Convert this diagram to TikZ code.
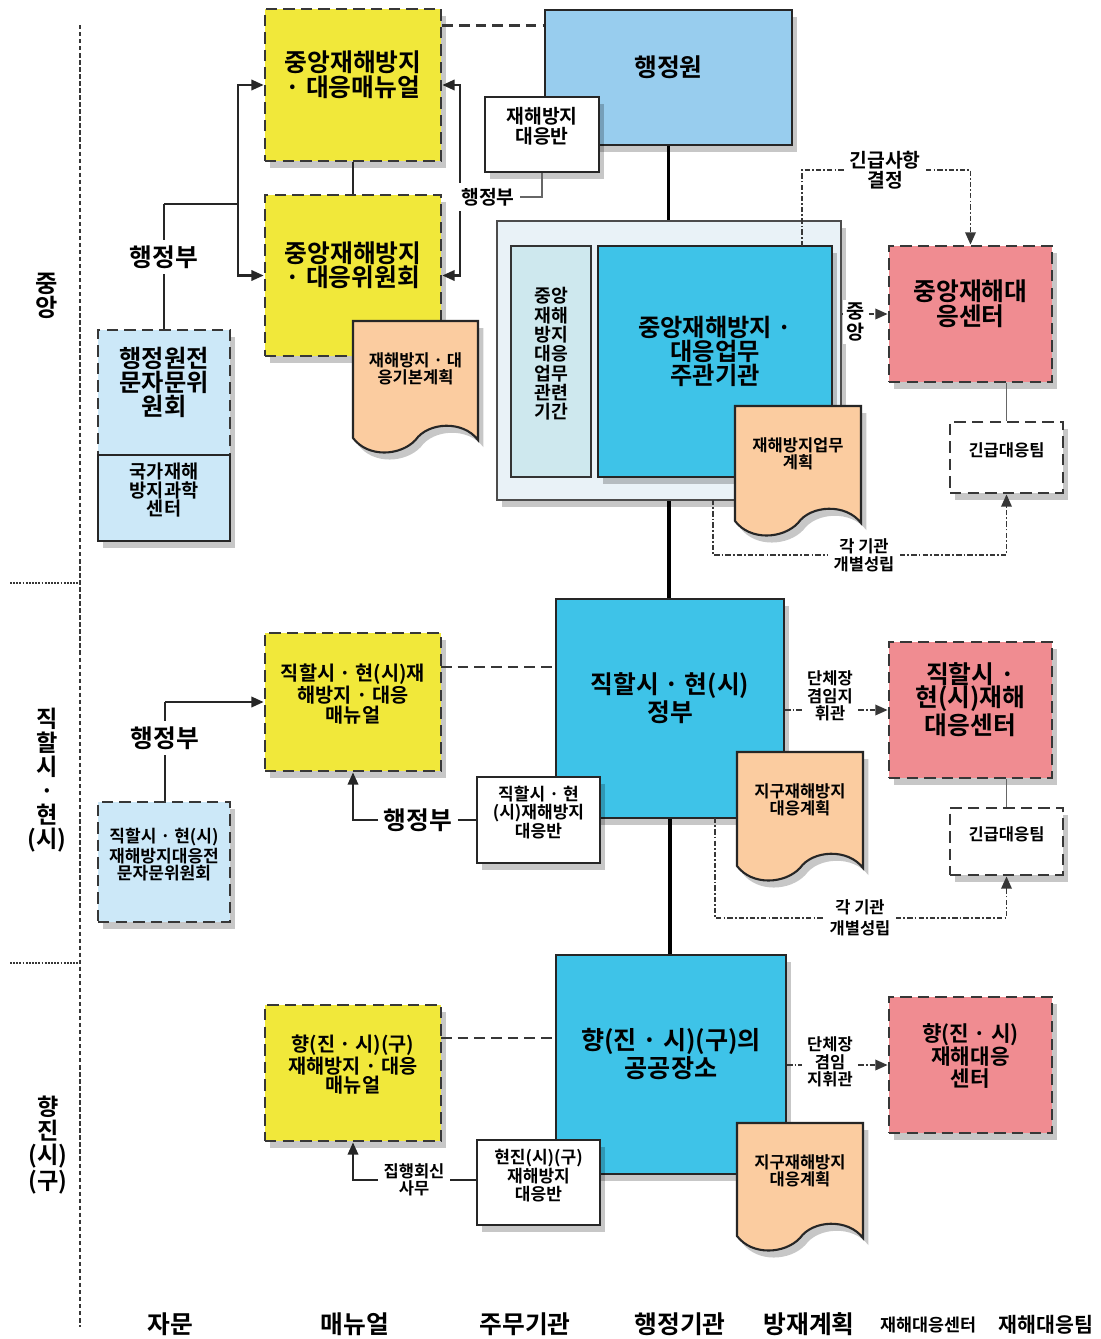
\documentclass[tikz,border=0pt]{standalone}
\usepackage{fontspec}
\setmainfont{Noto Sans CJK KR Bold}
\usepackage{tikz}
\usetikzlibrary{fit,arrows.meta,shadows}
\definecolor{manualyellow}{RGB}{241,232,58}
\definecolor{cabinetblue}{RGB}{152,205,238}
\definecolor{agencyblue}{RGB}{62,195,232}
\definecolor{framegray}{RGB}{233,242,247}
\definecolor{relatedteal}{RGB}{206,232,238}
\definecolor{planpeach}{RGB}{251,204,160}
\definecolor{centerpink}{RGB}{240,140,145}
\definecolor{advisorblue}{RGB}{204,232,248}
\definecolor{linegray}{RGB}{55,55,55}

\tikzset{
  bigtxt/.style={font=\fontsize{14.1}{14}\selectfont},
  midtxt/.style={font=\fontsize{11.2}{11.2}\selectfont},
  smalltxt/.style={font=\fontsize{9.4}{10}\selectfont},
  area/.style={inner sep=0pt, align=center},
  shadowed/.style={drop shadow={shadow xshift=3pt, shadow yshift=-4pt, opacity=0.22, fill=black}},
  dashedge/.style={draw=linegray, line width=1.6pt, dash pattern=on 6.5pt off 3.5pt},
  solidedge/.style={draw=black!85, line width=1.4pt},
  manual/.style={area, shadowed, dashedge, fill=manualyellow, midtxt},
  cabinet/.style={area, shadowed, solidedge, fill=cabinetblue, bigtxt},
  agency/.style={area, shadowed, solidedge, fill=agencyblue, bigtxt},
  frame/.style={area, shadowed, draw=black!70, line width=1.4pt, fill=framegray},
  related/.style={area, draw=black!80, line width=1.2pt, fill=relatedteal},
  whitebox/.style={area, shadowed, solidedge, fill=white, smalltxt},
  center/.style={area, shadowed, dashedge, fill=centerpink, bigtxt},
  teambox/.style={area, shadowed, dashedge, fill=white, smalltxt},
  advisor/.style={area, shadowed, fill=advisorblue},
  plan/.style={draw=black!85, line width=1.2pt, fill=planpeach,
    drop shadow={shadow xshift=3pt, shadow yshift=-4pt, opacity=0.22, fill=black}},
  tag/.style={fill=white, inner sep=3pt, align=center},
  link/.style={line width=1.2pt, black!85},
  thinlink/.style={line width=0.8pt, black!60},
  flow/.style={link, -{Triangle[length=7pt,width=6pt]}},
  trunk/.style={line width=2.2pt, black},
  dashlink/.style={line width=1.6pt, linegray, dash pattern=on 6pt off 3.5pt},
  dotlink/.style={line width=1pt, linegray, dash pattern=on 3pt off 1.2pt on 1pt off 1.2pt},
  dotflow/.style={dotlink, -{Triangle[length=7pt,width=6pt]}},
  divider/.style={line width=1pt, linegray, dash pattern=on 2.5pt off 1.5pt}
}

% wavy plan document: name, x1, y1, x2, y2, text
\newcommand{\plandoc}[6]{%
  \draw[plan] (#2,#3) -- (#4,#3) -- (#4,{#5-12})
    .. controls ({#4-0.12*(#4-#2)},{#5-32}) and ({#2+0.6*(#4-#2)},{#5-30}) .. ({#2+0.5*(#4-#2)},{#5-12})
    .. controls ({#2+0.38*(#4-#2)},{#5+4}) and ({#2+0.12*(#4-#2)},{#5+6}) .. (#2,{#5-14}) -- cycle;
  \node[smalltxt, align=center] (#1) at ({(#2+#4)/2},{#3+48}) {#6};
}

\begin{document}
\begin{tikzpicture}[x=0.02cm, y=-0.02cm]

% Background
\fill[white] (0,0) rectangle (1100,1339);
\useasboundingbox (0,0) rectangle (1100,1339);

% Level dividers
\draw[divider] (80,25) -- (80,1327);
\draw[linegray, line width=1.4pt, dash pattern=on 1pt off 0.8pt] (10,583) -- (80,583);
\draw[linegray, line width=1.4pt, dash pattern=on 1pt off 0.8pt] (10,963) -- (80,963);

% Level names
\node[font=\fontsize{13.8}{14}\selectfont, align=center] (central) at (47,296) {중\\앙};
\node[font=\fontsize{13.2}{13.6}\selectfont, align=center] (province) at (47,780) {직\\할\\시\\·\\현\\(시)};
\node[font=\fontsize{13.2}{13.6}\selectfont, align=center] (county) at (48,1145) {향\\진\\(시)\\(구)};

% ---------- central level ----------
\node[manual, bigtxt, fit={(265,9) (441,161)}] (cmanual) {중앙재해방지\\ · 대응매뉴얼};
\node[manual, bigtxt, fit={(265,195) (441,356)}] (ccommittee) {중앙재해방지\\ · 대응위원회};
\node[cabinet, fit={(545,10) (792,145)}] (cabinet) {행정원};
\node[whitebox, font=\fontsize{11}{11.4}\selectfont, fit={(485,97) (599,172)}] (cteam) {재해방지\\대응반};

\node[frame, fit={(497,221) (841,500)}] (cframe) {};
\node[related, font=\fontsize{10.4}{11}\selectfont, fit={(511,246) (591,477)}] (crelated) {중앙\\재해\\방지\\대응\\업무\\관련\\기간};
\node[agency, font=\fontsize{13.8}{13.6}\selectfont, fit={(598,246) (832,477)}] (cagency) {중앙재해방지 ·\\대응업무\\주관기관};

\plandoc{cbasic}{353}{321}{478}{452}{재해방지 · 대\\응기본계획}
\plandoc{cplan}{735}{406}{861}{535}{재해방지업무\\계획}

\node[center, fit={(889,246) (1052,382)}] (ccenter) {중앙재해대\\응센터};
\node[teambox, fit={(950,422) (1063,493)}] (cresponse) {긴급대응팀};

\node[advisor, dashedge, font=\fontsize{13.8}{13.8}\selectfont, fit={(98,330) (230,455)}] (cadvisor) {행정원전\\문자문위\\원회};
\node[advisor, solidedge, font=\fontsize{10.6}{10.6}\selectfont, fit={(98,455) (230,541)}] (science) {국가재해\\방지과학\\센터};

% central connectors
\draw[trunk] (cabinet.south) -- (cabinet.south |- cframe.north);
\coordinate (cdash) at ([yshift=-10pt]cmanual.north east);
\draw[dashlink] (cdash) -- (cdash -| cabinet.west);
\draw[link] (cmanual.south) -- (ccommittee.north);

\coordinate (lroot) at (164,204);
\coordinate (lsplit) at (238,204);
\draw[link] (lroot) -- (lsplit);
\draw[flow] (lsplit) |- (cmanual.west);
\draw[flow] (lsplit) |- (ccommittee.west);
\node[tag, bigtxt] (cadmin) at (164,257) {행정부};
\draw[link] (lroot) -- (cadmin.north);
\draw[link] (cadmin.south) -- (cadmin.south |- cadvisor.north);

\coordinate (rsplit) at (460,197);
\draw[flow] (rsplit) |- (cmanual.east);
\draw[flow] (rsplit) |- (ccommittee.east);
\node[tag, font=\fontsize{11}{11}\selectfont] (cadmin2) at (488,197) {행정부};
\draw[thinlink] (cadmin2.east) -| (cteam.south);

\node[tag, font=\fontsize{11}{11.6}\selectfont] (urgent) at (885,170) {긴급사항\\결정};
\coordinate (urgfoot) at (802,246);
\draw[dotlink] (urgfoot) |- (urgent.west);
\draw[dotflow] (urgent.east) -| (ccenter.north);

\node[tag, font=\fontsize{11.2}{11.4}\selectfont, inner sep=2pt] (cmid) at (856,322) {중\\앙};
\draw[dotlink] (cframe.east |- ccenter.west) -- (cmid.west |- ccenter.west);
\draw[dotflow] (cmid.east |- ccenter.west) -- (ccenter.west);
\draw[thinlink] (ccenter.south -| cresponse.north) -- (cresponse.north);

\node[tag, font=\fontsize{9.4}{10.4}\selectfont] (ceach) at (864,555) {각 기관\\개별성립};
\coordinate (ceachfoot) at (713,500);
\draw[dotlink] (ceachfoot) |- (ceach.west);
\draw[dotflow] (ceach.east) -| (cresponse.south);

% ---------- province level ----------
\node[manual, fit={(265,633) (441,771)}] (pmanual) {직할시 · 현(시)재\\해방지 · 대응\\매뉴얼};
\node[agency, fit={(556,599) (784,818)}] (pgov) {직할시 · 현(시)\\정부};
\node[whitebox, font=\fontsize{9.7}{10}\selectfont, fit={(477,777) (600,863)}] (pteam) {직할시 · 현\\(시)재해방지\\대응반};
\plandoc{pplan}{737}{752}{863}{880}{지구재해방지\\대응계획}
\node[center, font=\fontsize{14.1}{13.4}\selectfont, fit={(889,642) (1052,778)}] (pcenter) {직할시 ·\\현(시)재해\\대응센터};
\node[teambox, fit={(950,808) (1063,875)}] (presponse) {긴급대응팀};
\node[advisor, dashedge, font=\fontsize{9.7}{10}\selectfont, fit={(98,802) (230,922)}] (padvisor) {직할시 · 현(시)\\재해방지대응전\\문자문위원회};

% province connectors
\draw[trunk] (cframe.south) -- (cframe.south |- pgov.north);
\coordinate (proot) at (165,702);
\draw[flow] (proot) -- (pmanual.west);
\node[tag, bigtxt] (padmin) at (165,738) {행정부};
\draw[link] (proot) -- (padmin.north);
\draw[link] (padmin.south) -- (padmin.south |- padvisor.north);
\coordinate (pdash) at (441,667);
\draw[dashlink] (pdash) -- (pdash -| pgov.west);

\node[tag, bigtxt] (padmin2) at (418,820) {행정부};
\draw[flow] (padmin2.west) -| (pmanual.south);
\draw[link] (padmin2.east) -- (padmin2.east -| pteam.west);

\node[tag, font=\fontsize{9.4}{9.8}\selectfont] (pchief) at (830,696) {단체장\\겸임지\\휘관};
\draw[dotlink] (pgov.east |- pcenter.west) -- (pchief.west |- pcenter.west);
\draw[dotflow] (pchief.east |- pcenter.west) -- (pcenter.west);
\draw[thinlink] (pcenter.south -| presponse.north) -- (presponse.north);

\node[tag, font=\fontsize{9.4}{12}\selectfont] (peach) at (860,918) {각 기관\\개별성립};
\coordinate (peachfoot) at (715,818);
\draw[dotlink] (peachfoot) |- (peach.west);
\draw[dotflow] (peach.east) -| (presponse.south);

% ---------- county level ----------
\node[manual, font=\fontsize{11.2}{11}\selectfont, fit={(265,1005) (441,1141)}] (lmanual) {향(진 · 시)(구)\\재해방지 · 대응\\매뉴얼};
\node[agency, font=\fontsize{14.3}{13.4}\selectfont, fit={(556,955) (786,1174)}] (lplace) {향(진 · 시)(구)의\\공공장소};
\node[whitebox, font=\fontsize{9.7}{10}\selectfont, fit={(477,1140) (600,1225)}] (lteam) {현진(시)(구)\\재해방지\\대응반};
\plandoc{lplan}{737}{1123}{863}{1250}{지구재해방지\\대응계획}
\node[center, font=\fontsize{12.1}{12.6}\selectfont, fit={(889,997) (1052,1133)}] (lcenter) {향(진 · 시)\\재해대응\\센터};

% county connectors
\draw[trunk] (pgov.south) -- (pgov.south |- lplace.north);
\coordinate (ldash) at (441,1038);
\draw[dashlink] (ldash) -- (ldash -| lplace.west);

\node[tag, font=\fontsize{9.4}{10}\selectfont] (lreply) at (414,1180) {집행회신\\사무};
\draw[flow] (lreply.west) -| (lmanual.south);
\draw[link] (lreply.east) -- (lreply.east -| lteam.west);

\node[tag, font=\fontsize{9.4}{9.8}\selectfont] (lchief) at (830,1062) {단체장\\겸임\\지휘관};
\draw[dotlink] (lplace.east |- lcenter.west) -- (lchief.west |- lcenter.west);
\draw[dotflow] (lchief.east |- lcenter.west) -- (lcenter.west);

% Column names
\node[bigtxt] (colAdvice) at (170,1324) {자문};
\node[bigtxt] (colManual) at (355,1324) {매뉴얼};
\node[bigtxt] (colLead) at (525,1324) {주무기관};
\node[bigtxt] (colAdmin) at (680,1324) {행정기관};
\node[bigtxt] (colPlan) at (809,1324) {방재계획};
\node[font=\fontsize{9.9}{9.9}\selectfont] (colCenter) at (928,1325) {재해대응센터};
\node[font=\fontsize{11.7}{11.7}\selectfont] (colTeam) at (1046,1325) {재해대응팀};

\end{tikzpicture}
\end{document}
